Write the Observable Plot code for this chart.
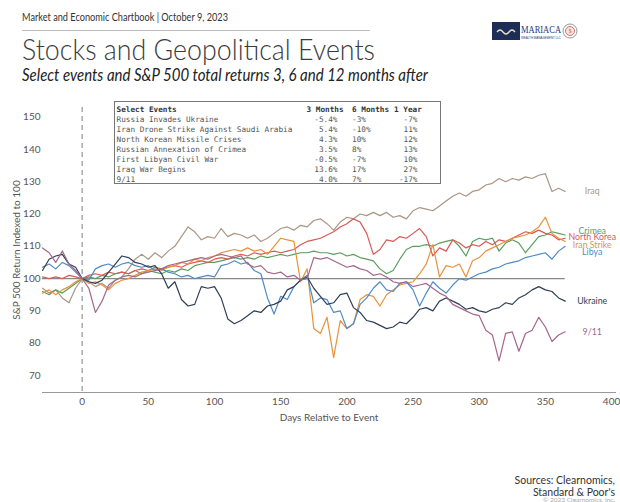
<!DOCTYPE html>
<html>
<head>
<meta charset="utf-8">
<script src="https://cdn.jsdelivr.net/npm/d3@7"></script>
<script src="https://cdn.jsdelivr.net/npm/@observablehq/plot@0.6"></script>
<style>
  html, body { margin: 0; padding: 0; background: #fff; }
  body { width: 620px; height: 502px; position: relative; overflow: hidden; font-family: Lato, "Open Sans", sans-serif; }
  .abs { position: absolute; white-space: nowrap; }
  .fit { transform-origin: 0 0; }
  #table { position: absolute; left: 114px; top: 101px; width: 327px; height: 83px; border: 1px solid #777; box-sizing: border-box;
           font-family: "DejaVu Sans Mono", monospace; font-size: 7.7px; color: #555; }
  #table .row { position: absolute; left: 0; height: 10px; line-height: 10px; width: 100%; }
  #table .row span { position: absolute; white-space: nowrap; }
  #table .hd { font-weight: bold; color: #333; }
</style>
</head>
<body>
<div class="abs fit" id="hdr" style="left:22px;top:10px;font-size:11px;color:#333;" data-w="206">Market and Economic Chartbook | October 9, 2023</div>
<div class="abs" style="left:22px;top:30px;width:348px;height:0;border-top:1px solid #bbb;"></div>
<div class="abs fit" id="title" style="left:22px;top:30px;font-size:30px;font-weight:300;color:#3b3b3b;" data-w="353">Stocks and Geopolitical Events</div>
<div class="abs fit" id="sub" style="left:22px;top:65px;font-size:16.5px;font-style:italic;color:#222;" data-w="406">Select events and S&amp;P 500 total returns 3, 6 and 12 months after</div>

<svg class="abs" style="left:490px;top:20px;" width="90" height="24" viewBox="0 0 90 24">
  <rect x="2" y="2" width="28" height="18" fill="#1d2d55"/>
  <path d="M7 12 q3 -4 6 0 q3 4 6 0 q3 -4 6 0" fill="none" stroke="#e8e2c8" stroke-width="1.3"/>
  <text x="31" y="13" font-family="Liberation Serif, serif" font-size="10" fill="#1d3c78" textLength="40" lengthAdjust="spacingAndGlyphs">MARIACA</text>
  <text x="31" y="18.5" font-family="Liberation Sans, sans-serif" font-size="3" fill="#1d3c78" textLength="40" lengthAdjust="spacingAndGlyphs">WEALTH MANAGEMENT LLC</text>
  <circle cx="80" cy="11" r="7" fill="#fff" stroke="#999" stroke-width="1"/>
  <circle cx="80" cy="11" r="4.5" fill="#f3e6e0" stroke="#d0655a" stroke-width="0.9"/>
  <text x="80" y="13.2" text-anchor="middle" font-size="5.5" fill="#c0504a" font-family="Liberation Serif, serif">$</text>
</svg>

<div id="chart" class="abs" style="left:0;top:95px;"></div>
<div id="table"></div>

<div class="abs" style="right:5px;top:475px;font-size:10.5px;color:#333;text-align:right;line-height:11.5px;">Sources: Clearnomics,<br>Standard &amp; Poor's</div>
<div class="abs" style="right:5px;top:496px;font-size:6.5px;line-height:7px;color:#aaa;text-align:right;">© 2023 Clearnomics, Inc.</div>

<script>
// ---------- data ----------
const days = [-30,-25,-20,-15,-10,-5,0,5,10,15,20,25,30,35,40,45,50,55,60,65,70,75,80,85,90,95,100,105,110,115,120,125,130,135,140,145,150,155,160,165,170,175,180,185,190,195,200,205,210,215,220,225,230,235,240,245,250,255,260,265,270,275,280,285,290,295,300,305,310,315,320,325,330,335,340,345,350,355,360,365];

const iraq = [97,95.5,96.5,94,92.5,97, 100,99,97.5,98.5,97,99.5,100.5,103,106,107.5, 106,108,106.5,108.5,110,113,116,114.5,112,113, 112.5,115.5,113,114,113.5,112.5,113.5,111.5,112.5,114, 115.5,116,115,116.5,116,118,118.5,117,115,117.5, 119,118.5,120,119.5,120.5,119.5,120.5,119,119.5,118.5, 121,122,121.5,121,122.5,124,125.5,126.5,125.5,127, 127.5,129,129.5,131,130,131,130.5,131.5,131,132, 132.5,127,128,127];
const crimea = [96,95,96.5,95.5,97,98.5, 100,100.5,100,101,100.5,101.5,102,101.5,102.5,101.5, 102.5,102,101.5,102.5,102,103,102.5,104,104.5,105, 105,105.5,106,106.5,106,106.5,106,107,106.5,107, 107.5,107,107.5,108,108,108.5,108,108,107.5,108, 107,107.5,106.5,106,105.5,103,101.5,102.5,106,109, 110,110,110.5,110,111,111.5,112,110,107,111.5, 112.5,112,112.5,108.5,111,112,111,108,110.5,113, 113.5,114.5,114,113.5];
const northKorea = [100.5,100,100.5,100,101,100.5, 100,101,101.5,101,102,101.5,102,101.5,102.5,103, 102.5,103.5,103,103.5,104,103.5,104.5,105,105.5,105, 106,106.5,106,107,107.5,107,108,107.5,108,108.5, 108,108.5,109,110.5,111.5,112,112.5,113.5,114.5,116, 117,118.5,117.5,114,107.5,109,112,111.5,113,112.5, 114,115.5,113,107,109.5,108.5,112,111,109.5,110.5, 110,111.5,110.5,112,111.5,112.5,113.5,114.5,114,115, 114,113.5,112,112.5];
const iranStrike = [95.5,96.5,95,96.5,97.5,99, 100,98.5,99,98,96.5,98.5,99.5,100,101,102, 102.5,103,102.5,103.5,104,105,104.5,106,105.5,106.5, 107,108,108.5,109,108.5,109.5,108.5,109,107.5,110, 112.5,112,111.5,99,103,84.5,83,88,75.5,87, 84.5,86,93.5,95,94.5,91.5,95,96.5,98,98.5, 99,101.5,104.5,110.5,100.5,104,103.5,104.5,100.5,105.5, 106.5,108.5,109.5,110.5,111.5,112.5,113,113.5,114.5,116, 119,114,112.5,111.5];
const libya = [103.5,104.5,103,105,104,102, 100,99.5,103,104,104.5,103.5,104.5,105,104,103.5, 104,102.5,103,102,101.5,100.5,101,100,100.5,101, 100.5,104,104.5,105.5,104.5,105,102.5,101.5,94,89, 94.5,93.5,97.5,99.5,101,92.5,94,93.5,89.5,90, 84.5,86,92,94,97,99,96.5,96,98.5,99, 96.5,91.5,95.5,99,97,95.5,98,100,99.5,100.5, 101.5,102,103,103.5,104.5,105,105.5,106.5,107,107.5, 108,106,108.5,110];
const ukraine = [102.5,106,107,107.5,104.5,103.5, 100,99,98.5,99.5,102,104.5,107,106.5,105,104.5, 103.5,104,101.5,97,99,93.5,91.5,92,97.5,97, 97.5,94,87.5,86,87,88.5,90,89.5,91.5,92, 93,96.5,97.5,99.5,100.5,97,94.5,92,92.5,95, 95.5,91,89.5,87,86.5,85.5,84.5,85,86.5,86, 88,90.5,91,90,93,94,93,92,90.5,91, 90,89.5,90.5,91,92.5,92,94,95,96.5,97.5, 96.5,96,94,93];
const sept11 = [109.5,108,105,108.5,104.5,102.5, 100,97,89.5,93,98,99.5,100.5,101,100.5,101.5, 102,102.5,103,104,104.5,105,105.5,106,106.5,106, 107,107.5,107,106.5,107,104.5,103.5,104,102,101.5, 102,100.5,101,99.5,100,106.5,106,106.5,105.5,104.5, 103.5,104,103,102.5,101,101.5,100.5,99,98.5,99, 97.5,98,98.5,97,95.5,94.5,92,91,90,89, 88.5,84,82.5,74.5,83,83.5,77.5,83,84,88, 85,80.5,82.5,83.5];

const seriesNames = ["Iraq", "Crimea", "North Korea", "Iran Strike", "Libya", "Ukraine", "9/11"];
const seriesValues = [iraq, crimea, northKorea, iranStrike, libya, ukraine, sept11];
const seriesColors = ["#ab9684", "#5c9e5e", "#d95a55", "#e9923b", "#4f8bc5", "#2f3f55", "#a5668a"];

const xTicks = [0, 50, 100, 150, 200, 250, 300, 350, 400];
const yTicks = [70, 80, 90, 100, 110, 120, 130, 140, 150];

// table
const tableEvents = ["Russia Invades Ukraine", "Iran Drone Strike Against Saudi Arabia", "North Korean Missile Crises", "Russian Annexation of Crimea", "First Libyan Civil War", "Iraq War Begins", "9/11"];
const ret3m = ["-5.4%", "5.4%", "4.3%", "3.5%", "-0.5%", "13.6%", "4.0%"];
const ret6m = ["-3%", "-10%", "10%", "8%", "-7%", "17%", "7%"];
const ret1y = ["-7%", "11%", "12%", "13%", "10%", "27%", "-17%"];
const tableHeader = ["Select Events", "3 Months", "6 Months", "1 Year"];

// ---------- chart ----------
const data = seriesNames.flatMap((name, s) => days.map((d, i) => ({day: d, value: seriesValues[s][i], event: name})));
const lastIdx = days.length - 1;
const labelNudge = {"Iraq": 0, "Crimea": -3.5, "North Korea": -1, "Iran Strike": 4, "Libya": 5.5, "Ukraine": 0, "9/11": 0};

const chart = Plot.plot({
  width: 620,
  height: 330,
  marginLeft: 42,
  marginRight: 5,
  marginTop: 12,
  marginBottom: 33,
  style: {fontFamily: "Lato, 'Open Sans', sans-serif", fontSize: "10px", color: "#555", background: "transparent", overflow: "visible"},
  x: {domain: [-30, 403], ticks: xTicks, tickSize: 0, tickPadding: 5, label: "Days Relative to Event", labelAnchor: "center", labelArrow: "none", labelOffset: 28},
  y: {domain: [64.7, 153], ticks: yTicks, tickSize: 0, tickPadding: 2, label: "S&P 500 Return Indexed to 100", labelAnchor: "center", labelArrow: "none", labelOffset: 30},
  color: {domain: seriesNames, range: seriesColors},
  marks: [
    Plot.ruleX([0], {stroke: "#aaa", strokeWidth: 1.5, strokeDasharray: "5,4"}),
    Plot.ruleY([100], {x1: d3.min(days), x2: d3.max(days), stroke: "#888", strokeWidth: 1.2}),
    Plot.frame({anchor: "bottom", stroke: "#999"}),
    Plot.lineY(data, {x: "day", y: "value", z: "event", stroke: "event", strokeWidth: 1.2, curve: "linear"}),
    ...seriesNames.map((name, s) => Plot.text([{day: days[lastIdx], value: seriesValues[s][lastIdx], event: name}], {
      x: "day", y: "value", text: "event", fill: "event", dx: 27, dy: labelNudge[name], textAnchor: "middle", fontSize: 8.8
    }))
  ]
});
document.getElementById("chart").appendChild(chart);

// ---------- table ----------
const tbl = document.getElementById("table");
function addRow(top, cells, cls) {
  const row = document.createElement("div");
  row.className = "row" + (cls ? " " + cls : "");
  row.style.top = top + "px";
  const pos = [
    {left: "1.5px"},
    cls ? {left: "191.5px"} : {right: "102.5px"},
    {left: "237px"},
    cls ? {left: "279px"} : {right: "22.5px"}
  ];
  cells.forEach((t, i) => {
    const sp = document.createElement("span");
    sp.textContent = t;
    Object.assign(sp.style, pos[i]);
    row.appendChild(sp);
  });
  tbl.appendChild(row);
}
addRow(3, tableHeader, "hd");
tableEvents.forEach((e, i) => addRow(13 + 10 * i, [e, ret3m[i], ret6m[i], ret1y[i]]));

// fit text widths of header texts
document.querySelectorAll(".fit").forEach(el => {
  const w = el.getBoundingClientRect().width;
  const target = +el.dataset.w;
  el.style.transform = `scaleX(${target / w})`;
});
</script>
</body>
</html>
